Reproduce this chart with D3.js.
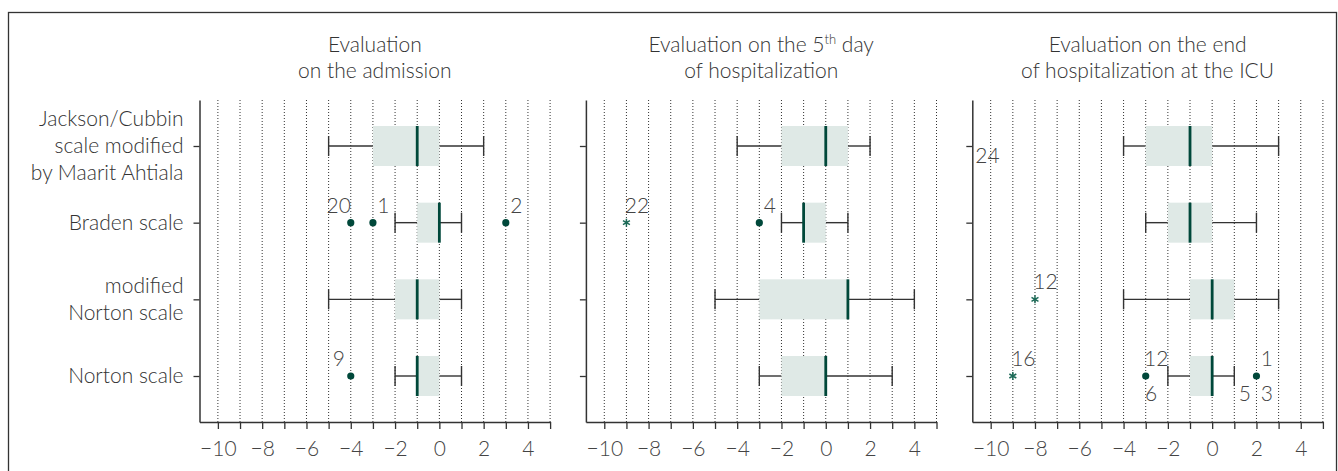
<!DOCTYPE html>
<html>
<head>
<meta charset="utf-8">
<script src="https://cdn.jsdelivr.net/npm/d3@7"></script>
<style>
  html, body { margin: 0; padding: 0; background: #fff; }
  svg { display: block; font-family: Lato, "Open Sans", sans-serif; font-weight: 300; }
</style>
</head>
<body>
<script>
// row categories (top to bottom), split into the printed lines
const categories = ["Jackson/Cubbin", "Braden", "modified Norton", "Norton"];
const categoryLines = [
  ["Jackson/Cubbin", "scale modified", "by Maarit Ahtiala"],
  ["Braden scale"],
  ["modified", "Norton scale"],
  ["Norton scale"]
];

// [whisker low, q1, median, q3, whisker high] per row
const admissionStats = [[-5, -3, -1, 0, 2], [-2, -1, 0, 0, 1], [-5, -2, -1, 0, 1], [-2, -1, -1, 0, 1]];
const day5Stats      = [[-4, -2, 0, 1, 2], [-2, -1, -1, 0, 1], [-5, -3, 1, 1, 4], [-3, -2, 0, 0, 3]];
const endStats       = [[-4, -3, -1, 0, 3], [-3, -2, -1, 0, 2], [-4, -1, 0, 1, 3], [-2, -1, 0, 0, 1]];

// outliers: row, value, marker kind, case labels with placement
const admissionOutliers = [
  { cat: 1, value: -4, kind: "circle", labels: [["20", "nw"]] },
  { cat: 1, value: -3, kind: "circle", labels: [["1", "ne"]] },
  { cat: 1, value: 3, kind: "circle", labels: [["2", "ne"]] },
  { cat: 3, value: -4, kind: "circle", labels: [["9", "nw"]] }
];
const day5Outliers = [
  { cat: 1, value: -9, kind: "star", labels: [["22", "ne"]] },
  { cat: 1, value: -3, kind: "circle", labels: [["4", "ne"]] }
];
const endOutliers = [
  { cat: 0, value: -11, kind: "none", labels: [["24", "edge"]] },
  { cat: 2, value: -8, kind: "star", labels: [["12", "ne"]] },
  { cat: 3, value: -9, kind: "star", labels: [["16", "ne"]] },
  { cat: 3, value: -3, kind: "circle", labels: [["12", "ne"], ["6", "s"]] },
  { cat: 3, value: 2, kind: "circle", labels: [["1", "ne"], ["5", "sw"], ["3", "se"]] }
];

const panels = [
  { title: [["Evaluation"], ["on the admission"]], stats: admissionStats, outliers: admissionOutliers },
  { title: [["Evaluation on the 5", "th", " day"], ["of hospitalization"]], stats: day5Stats, outliers: day5Outliers },
  { title: [["Evaluation on the end"], ["of hospitalization at the ICU"]], stats: endStats, outliers: endOutliers }
];

const xTicks = d3.range(-10, 6);
const xLabelTicks = [-10, -8, -6, -4, -2, 0, 2, 4];

const width = 1338, height = 471;
const panelLeft = 199.5, panelStep = 386.4, panelWidth = 350.6;
const plotTop = 100, plotBottom = 422;
const ink = "#333", green = "#00483a", boxFill = "#dfe9e6";
const fontSize = 21;

const labelOffset = {
  ne: [10.5, -10], nw: [-12, -10], se: [10.5, 25], sw: [-11.5, 25], s: [5.5, 25], edge: [19, 17]
};

const svg = d3.select("body").append("svg")
  .attr("width", width).attr("height", height);

// frame
svg.append("rect")
  .attr("x", 8.5).attr("y", 12.5)
  .attr("width", 1328).attr("height", 500)
  .attr("fill", "none").attr("stroke", ink).attr("stroke-width", 1.3);

const y = d3.scalePoint().domain(categories).range([plotTop, plotBottom]).padding(0.6);

panels.forEach((p, pi) => {
  const left = panelLeft + pi * panelStep;
  const x = d3.scaleLinear().domain([-10.83, 5]).range([left, left + panelWidth]);
  const g = svg.append("g");

  // title
  p.title.forEach((line, li) => {
    const t = g.append("text")
      .attr("x", left + panelWidth / 2)
      .attr("y", 52 + li * 26)
      .attr("text-anchor", "middle")
      .attr("fill", ink)
      .style("font-size", fontSize + "px");
    if (line.length === 1) {
      t.text(line[0]);
    } else {
      t.append("tspan").text(line[0]);
      t.append("tspan").attr("dy", -8).style("font-size", "13px").text(line[1]);
      t.append("tspan").attr("dy", 8).text(line[2]);
    }
  });

  // dotted grid
  g.selectAll("line.grid")
    .data(xTicks)
    .join("line")
    .attr("class", "grid")
    .attr("x1", (d) => x(d)).attr("x2", (d) => x(d))
    .attr("y1", plotTop).attr("y2", plotBottom)
    .attr("stroke", ink).attr("stroke-width", 1)
    .attr("stroke-dasharray", "1,2");

  // x axis
  const xa = g.append("g")
    .attr("transform", `translate(0,${plotBottom})`)
    .call(d3.axisBottom(x)
      .tickValues(xTicks)
      .tickSize(7)
      .tickSizeOuter(0)
      .tickFormat((d) => xLabelTicks.includes(d) ? (d < 0 ? "\u2212" + Math.abs(d) : d) : ""));
  xa.select(".domain").attr("stroke", ink).attr("stroke-width", 1.5);
  xa.selectAll(".tick line").attr("stroke", ink).attr("stroke-width", 1.3);
  xa.selectAll(".tick text")
    .attr("y", 19)
    .attr("dy", "0.71em")
    .attr("fill", "#444")
    .style("font-family", "Lato, 'Open Sans', sans-serif")
    .style("font-weight", 300)
    .style("font-size", fontSize + "px");

  // y axis
  const ya = g.append("g")
    .attr("transform", `translate(${left},0)`)
    .call(d3.axisLeft(y).tickSize(6).tickSizeOuter(0).tickFormat(""));
  ya.select(".domain").attr("stroke", ink).attr("stroke-width", 1.5);
  ya.selectAll(".tick line").attr("stroke", ink).attr("stroke-width", 1.3);

  if (pi === 0) {
    categoryLines.forEach((lines, ci) => {
      const cy = y(categories[ci]);
      lines.forEach((s, li) => {
        g.append("text")
          .attr("x", left - 16)
          .attr("y", cy + 7 + (li - (lines.length - 1) / 2) * 27)
          .attr("text-anchor", "end")
          .attr("fill", ink)
          .style("font-size", fontSize + "px")
          .text(s);
      });
    });
  }

  // boxes
  const boxH = 40, capH = 20;
  p.stats.forEach((s, ci) => {
    const [lo, q1, med, q3, hi] = s;
    const cy = y(categories[ci]);
    const b = g.append("g");
    b.append("line")
      .attr("x1", x(lo)).attr("x2", x(q1)).attr("y1", cy).attr("y2", cy)
      .attr("stroke", ink).attr("stroke-width", 1.4);
    b.append("line")
      .attr("x1", x(q3)).attr("x2", x(hi)).attr("y1", cy).attr("y2", cy)
      .attr("stroke", ink).attr("stroke-width", 1.4);
    [lo, hi].forEach((v) => {
      b.append("line")
        .attr("x1", x(v)).attr("x2", x(v))
        .attr("y1", cy - capH / 2).attr("y2", cy + capH / 2)
        .attr("stroke", ink).attr("stroke-width", 1.4);
    });
    b.append("rect")
      .attr("x", x(q1)).attr("width", x(q3) - x(q1))
      .attr("y", cy - boxH / 2).attr("height", boxH)
      .attr("fill", boxFill);
    b.append("line")
      .attr("x1", x(med)).attr("x2", x(med))
      .attr("y1", cy - boxH / 2).attr("y2", cy + boxH / 2)
      .attr("stroke", green).attr("stroke-width", 2.8);
  });

  // outliers
  p.outliers.forEach((o) => {
    const ox = x(o.value), oy = y(categories[o.cat]);
    if (o.kind === "circle") {
      g.append("circle").attr("cx", ox).attr("cy", oy).attr("r", 3.6).attr("fill", green);
    } else if (o.kind === "star") {
      g.append("path")
        .attr("transform", `translate(${ox},${oy})`)
        .attr("d", d3.symbol(d3.symbolAsterisk, 45)())
        .attr("fill", "none").attr("stroke", "#1c6a57").attr("stroke-width", 1.5);
    }
    o.labels.forEach(([txt, pos]) => {
      const [dx, dy] = labelOffset[pos];
      g.append("text")
        .attr("x", ox + dx).attr("y", oy + dy)
        .attr("text-anchor", "middle")
        .attr("fill", "#444")
        .style("font-size", fontSize + "px")
        .text(txt);
    });
  });
});
</script>
</body>
</html>
